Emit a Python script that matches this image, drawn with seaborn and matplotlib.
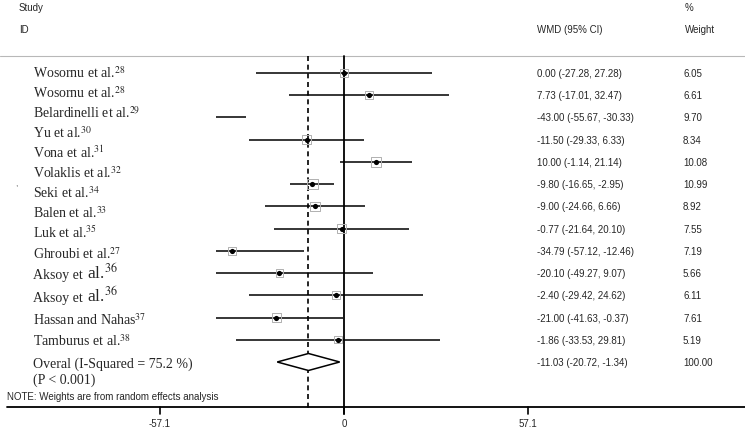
import numpy as np
import pandas as pd
import matplotlib
matplotlib.use('Agg')
import matplotlib.pyplot as plt
import matplotlib.transforms as mtransforms
import seaborn as sns

# study data
names = ['Wosornu et al.', 'Wosornu et al.', 'Belardinelli et al.', 'Yu et al.', 'Vona et al.',
         'Volaklis et al.', 'Seki et al.', 'Balen et al.', 'Luk et al.', 'Ghroubi et al.',
         'Aksoy et', 'Aksoy et', 'Hassan and Nahas', 'Tamburus et al.']
refs = ['28', '28', '29', '30', '31', '32', '34', '33', '35', '27', '36', '36', '37', '38']

wmd = [0.00, 7.73, -43.00, -11.50, 10.00, -9.80, -9.00, -0.77, -34.79, -20.10, -2.40, -21.00, -1.86]
ci_lo = [-27.28, -17.01, -55.67, -29.33, -1.14, -16.65, -24.66, -21.64, -57.12, -49.27, -29.42, -41.63, -33.53]
ci_hi = [27.28, 32.47, -30.33, 6.33, 21.14, -2.95, 6.66, 20.10, -12.46, 9.07, 24.62, -0.37, 29.81]
weight = [6.05, 6.61, 9.70, 8.34, 10.08, 10.99, 8.92, 7.55, 7.19, 5.66, 6.11, 7.61, 5.19]

overall = -11.03
overall_lo = -20.72
overall_hi = -1.34
overall_weight = 100.00
i_squared = 75.2
p_text = '(P < 0.001)'
ticks = [-57.1, 0, 57.1]
clip_range = (-39.7, 39.7)

sns.set_style('white')
plt.rcParams['font.family'] = ['Liberation Sans', 'DejaVu Sans']
plt.rcParams['mathtext.fontset'] = 'stix'

W, H = 745, 435
fig = plt.figure(figsize=(W / 100, H / 100), dpi=100)
ax = fig.add_axes([0, 0, 1, 1])
ppu = 184 / 57.1          # pixels per WMD unit
zero_px = 344
ax.set_xlim(-zero_px / ppu, (W - zero_px) / ppu)
ax.set_ylim(H, 0)
ax.axis('off')

# text positioned by pixel x (axes fraction), data y
tr = mtransforms.blended_transform_factory(ax.transAxes, ax.transData)


def px(x):
    return x / W


df = pd.DataFrame({'wmd': wmd, 'lo': ci_lo, 'hi': ci_hi, 'weight': weight})
df['y'] = 74 + 22.23 * np.arange(len(df))
overall_y = 74 + 22.23 * len(df)

# reference lines
ax.axhline(57, color='#b8b8b8', lw=0.8)
ax.plot([0, 0], [57, 415], color='black', lw=1.3)
ax.plot([overall, overall], [57, 409], color='black', lw=1.2, ls=(0, (3, 2.2)))
ax.axhline(408, xmin=px(7), xmax=1, color='black', lw=1.3)
for t in ticks:
    ax.plot([t, t], [408, 415], color='black', lw=1.2)
    ax.text(t, 424, f'{t:g}', ha='center', va='center', fontsize=7)

# confidence intervals
ax.hlines(df['y'], df['lo'].clip(lower=clip_range[0]), df['hi'].clip(upper=clip_range[1]),
          color='black', lw=1.1)

vis = df[(df['wmd'] > clip_range[0]) & (df['wmd'] < clip_range[1])]
ax.scatter(vis['wmd'], vis['y'], s=vis['weight'] * 5, marker='s', facecolors='none',
           edgecolors='#b0b0b0', linewidths=0.7, zorder=3)
sns.scatterplot(data=vis, x='wmd', y='y', color='black', s=14, edgecolor='black',
                linewidth=0, legend=False, ax=ax, zorder=4)

# overall diamond
ax.fill([overall_lo, overall, overall_hi, overall, overall_lo],
        [overall_y, overall_y - 8.5, overall_y, overall_y + 8.5, overall_y],
        facecolor='white', edgecolor='black', lw=1.1, zorder=3)

# headers
ax.text(px(19), 8, 'Study', transform=tr, fontsize=7, va='center')
ax.text(px(19), 30, 'ID', transform=tr, fontsize=7, va='center')
ax.text(px(537), 30, 'WMD (95% CI)', transform=tr, fontsize=7, va='center')
ax.text(px(685), 8, '%', transform=tr, fontsize=7, va='center')
ax.text(px(685), 30, 'Weight', transform=tr, fontsize=7, va='center')

# study labels (pasted column with its own spacing)
label_y = [73, 93, 113, 133, 153, 173, 193, 213, 233, 254, 276, 299, 320, 341]
serif = ['Liberation Serif', 'DejaVu Serif']
for name, ref, y in zip(names, refs, label_y):
    if name.startswith('Aksoy'):
        t1 = ax.text(px(33), y, name, transform=tr, fontsize=10, family=serif, va='center')
        ax.annotate(f'al.$^{{{ref}}}$', xy=(1, 0), xycoords=t1, xytext=(3, -0.5),
                    textcoords='offset points', fontsize=12.5, family=serif, va='bottom')
    else:
        ax.text(px(33), y, f'{name}$^{{{ref}}}$', transform=tr, fontsize=10, family=serif,
                va='center')
ax.text(px(33), 364, f'Overal (I-Squared = {i_squared} %)', transform=tr, fontsize=10,
        family=serif, va='center')
ax.text(px(33), 380, p_text, transform=tr, fontsize=10, family=serif, va='center')
ax.text(px(15), 185, ',', transform=tr, fontsize=6, color='#555555', va='center')

# estimate and weight columns
for r in df.itertuples():
    ax.text(px(537), r.y, f'{r.wmd:.2f} ({r.lo:.2f}, {r.hi:.2f})', transform=tr, fontsize=7,
            va='center')
    ax.text(px(683), r.y, f'{r.weight:.2f}', transform=tr, fontsize=7, va='center')
ax.text(px(537), overall_y, f'{overall:.2f} ({overall_lo:.2f}, {overall_hi:.2f})', transform=tr,
        fontsize=7, va='center')
ax.text(px(683), overall_y, f'{overall_weight:.2f}', transform=tr, fontsize=7, va='center')

ax.text(px(7), 397, 'NOTE: Weights are from random effects analysis', transform=tr,
        fontsize=7, va='center')

fig.savefig('out.png', dpi=100)
